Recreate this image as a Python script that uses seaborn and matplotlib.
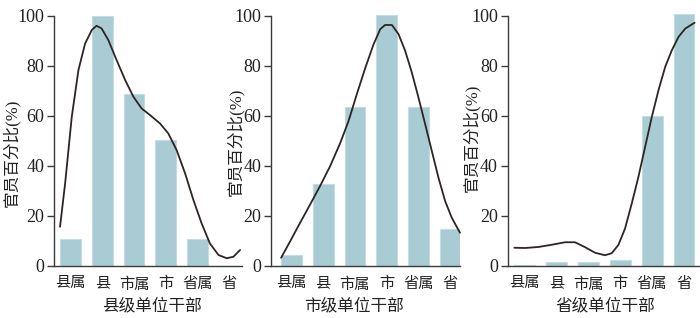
import numpy as np
import pandas as pd
import matplotlib
matplotlib.use("Agg")
import matplotlib.pyplot as plt
import seaborn as sns

sns.set_theme(style="ticks")
FAM = ['Liberation Serif', 'Noto Sans CJK SC', 'DejaVu Sans']
plt.rcParams['font.family'] = FAM
plt.rcParams['axes.unicode_minus'] = False

categories = ["县属", "县", "市属", "市", "省属", "省"]
ylabel_text = "官员百分比(%)"
xlabels = ["县级单位干部", "市级单位干部", "省级单位干部"]
yticks = [0, 20, 40, 60, 80, 100]

bars_county = [10.8, 100.0, 69.0, 50.3, 10.8, 0.0]
bars_city = [4.4, 33.0, 63.7, 100.3, 63.7, 15.0]
bars_prov = [0.4, 1.5, 1.5, 2.5, 60.0, 101.0]

curve_county_x = [-0.33, -0.17, 0.04, 0.25, 0.46, 0.67, 0.82, 0.98, 1.19, 1.45, 1.72, 1.98,
                  2.24, 2.5, 2.82, 3.08, 3.34, 3.61, 3.87, 4.13, 4.39, 4.66, 4.92, 5.13, 5.34]
curve_county_y = [15.7, 33.0, 59.7, 78.4, 89.0, 94.4, 96.1, 95.0, 90.4, 82.4, 74.4, 67.7,
                  63.0, 60.4, 57.0, 53.0, 46.4, 37.0, 26.4, 17.0, 9.0, 4.4, 3.1, 3.7, 6.4]

curve_city_x = [-0.33, -0.04, 0.27, 0.59, 0.9, 1.22, 1.54, 1.8, 2.06, 2.33, 2.59, 2.8, 2.95,
                3.17, 3.38, 3.59, 3.8, 4.01, 4.22, 4.43, 4.64, 4.85, 5.06, 5.32]
curve_city_y = [3.3, 10.0, 17.3, 24.7, 32.0, 40.0, 49.3, 58.0, 68.7, 79.3, 88.7, 94.7, 96.4,
                96.4, 92.7, 86.0, 77.3, 67.3, 56.7, 46.0, 35.3, 26.0, 19.3, 13.3]

curve_prov_x = [-0.32, 0.01, 0.43, 0.85, 1.27, 1.58, 1.9, 2.21, 2.52, 2.73, 2.94, 3.15, 3.36,
                3.57, 3.78, 3.99, 4.2, 4.41, 4.62, 4.83, 5.04, 5.33]
curve_prov_y = [7.3, 7.2, 7.6, 8.5, 9.5, 9.5, 7.5, 5.3, 4.3, 5.1, 8.4, 15.0, 25.0,
                35.7, 47.7, 59.7, 70.4, 79.7, 86.4, 91.7, 95.0, 97.3]

panels = [
    dict(bars=bars_county, cx=curve_county_x, cy=curve_county_y, xlabel=xlabels[0],
         rect=[54/700, 52/318, 188/700, 253.75/318], xlim=(-0.52, 5.4),
         ylab=(-0.18, 0.445), xlab=(0.52, -0.128)),
    dict(bars=bars_city, cx=curve_city_x, cy=curve_city_y, xlabel=xlabels[1],
         rect=[271/700, 52/318, 189/700, 253.75/318], xlim=(-0.65, 5.32),
         ylab=(-0.14, 0.49), xlab=(0.437, -0.128)),
    dict(bars=bars_prov, cx=curve_prov_x, cy=curve_prov_y, xlabel=xlabels[2],
         rect=[507.7/700, 52/318, 192.3/700, 253.75/318], xlim=(-0.53, 5.5),
         ylab=(-0.145, 0.504), xlab=(0.51, -0.128)),
]

fig = plt.figure(figsize=(7.0, 3.18), dpi=100)
bar_color = "#a9cbd3"
line_color = "#2e2424"
spine_color = "#3a3a3a"
text_color = "#222222"

for p in panels:
    ax = fig.add_axes(p["rect"])
    df = pd.DataFrame({"cat": categories, "val": p["bars"]})
    sns.barplot(data=df, x="cat", y="val", order=categories, color=bar_color,
                saturation=1, width=0.65, edgecolor="#c4dde2", linewidth=0.8, ax=ax)
    cdf = pd.DataFrame({"x": p["cx"], "y": p["cy"]})
    sns.lineplot(data=cdf, x="x", y="y", color=line_color, linewidth=1.3, ax=ax,
                 sort=False, clip_on=False)
    ax.set_xlim(*p["xlim"])
    ax.set_ylim(0, 101.5)
    ax.set_yticks(yticks)
    ax.set_yticklabels([str(v) for v in yticks], fontsize=13,
                       family='Liberation Serif', color=text_color)
    ax.set_xticks(range(len(categories)))
    ax.set_xticklabels(categories, fontsize=11, family=FAM, color=text_color)
    ax.tick_params(axis="x", length=0, pad=8)
    ax.tick_params(axis="y", length=5, width=1, direction="out", pad=2, color=spine_color)
    for s in ["top", "right"]:
        ax.spines[s].set_visible(False)
    ax.spines["left"].set_bounds(0, 100)
    for s in ["left", "bottom"]:
        ax.spines[s].set_color(spine_color)
        ax.spines[s].set_linewidth(1.0)
    ax.set_ylabel(ylabel_text, fontsize=12, color=text_color, family=FAM)
    ax.set_xlabel(p["xlabel"], fontsize=12, color=text_color, family=FAM)
    ax.yaxis.set_label_coords(*p["ylab"])
    ax.xaxis.set_label_coords(*p["xlab"])
    ax.patch.set_alpha(0)

fig.savefig("out.png", dpi=100)
